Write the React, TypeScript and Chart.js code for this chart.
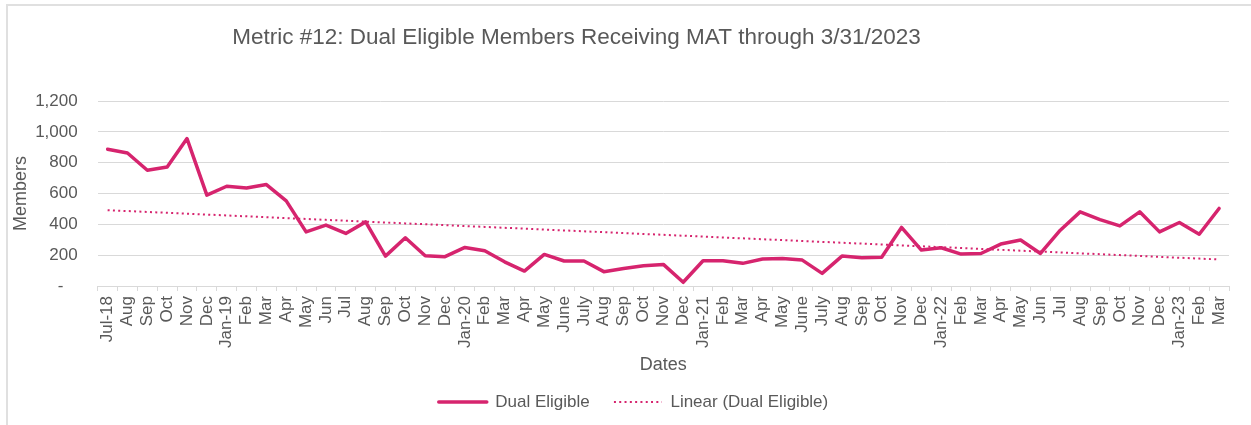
import React, { useEffect, useRef } from "react";
import { Chart, registerables } from "chart.js";

Chart.register(...registerables);

const months = [
  "Jul-18", "Aug", "Sep", "Oct", "Nov", "Dec",
  "Jan-19", "Feb", "Mar", "Apr", "May", "Jun", "Jul", "Aug", "Sep", "Oct", "Nov", "Dec",
  "Jan-20", "Feb", "Mar", "Apr", "May", "June", "July", "Aug", "Sep", "Oct", "Nov", "Dec",
  "Jan-21", "Feb", "Mar", "Apr", "May", "June", "July", "Aug", "Sep", "Oct", "Nov", "Dec",
  "Jan-22", "Feb", "Mar", "Apr", "May", "Jun", "Jul", "Aug", "Sep", "Oct", "Nov", "Dec",
  "Jan-23", "Feb", "Mar",
];

const dualEligible = [
  887, 863, 751, 772, 956, 589,
  647, 636, 658, 552, 351, 395, 341, 416, 194, 313, 196, 190,
  250, 229, 157, 97, 205, 162, 162, 93, 114, 131, 140, 24,
  164, 164, 147, 175, 178, 168, 82, 194, 183, 186, 380, 233,
  248, 207, 211, 272, 298, 211, 362, 481, 431, 390, 481, 351,
  412, 336, 503,
];

const yTicks = [0, 200, 400, 600, 800, 1000, 1200];

const chartTitle = "Metric #12: Dual Eligible Members Receiving MAT through 3/31/2023";
const seriesName = "Dual Eligible";
const trendName = "Linear (Dual Eligible)";
const xTitle = "Dates";
const yTitle = "Members";

// Least-squares linear trend of the series (as Excel's "Linear" trendline)
function linearTrend(values: number[]): number[] {
  const n = values.length;
  let sx = 0, sy = 0, sxy = 0, sxx = 0;
  values.forEach((v, i) => {
    const x = i + 1;
    sx += x; sy += v; sxy += x * v; sxx += x * x;
  });
  const b = (n * sxy - sx * sy) / (n * sxx - sx * sx);
  const a = (sy - b * sx) / n;
  return values.map((_, i) => a + b * (i + 1));
}

const MAGENTA = "#D6246E";
const TEXT = "#595959";
const GRID = "#d9d9d9";

export default function App() {
  const ref = useRef<HTMLCanvasElement | null>(null);

  useEffect(() => {
    if (!ref.current) return;
    Chart.defaults.font.family = "'Liberation Sans', Arial, sans-serif";

    const shiftPlugin = {
      id: "shiftBoxes",
      afterLayout(chart: any) {
        const t = chart.titleBlock;
        if (t) { t.left -= 42; t.right -= 42; }
        const l = chart.legend;
        if (l) { l.left += 15; l.right += 15; }
      },
    };

    const chart = new Chart(ref.current, {
      type: "line",
      data: {
        labels: months,
        datasets: [
          {
            label: seriesName,
            data: dualEligible,
            borderColor: MAGENTA,
            backgroundColor: MAGENTA,
            borderWidth: 3.5,
            pointRadius: 0,
            tension: 0,
            borderJoinStyle: "round",
            borderCapStyle: "round",
          },
          {
            label: trendName,
            data: linearTrend(dualEligible),
            borderColor: MAGENTA,
            backgroundColor: MAGENTA,
            borderWidth: 2,
            borderDash: [2, 3.3],
            pointRadius: 0,
            tension: 0,
          },
        ],
      },
      options: {
        animation: false,
        responsive: false,
        maintainAspectRatio: false,
        layout: { padding: { left: 8, right: 22, top: 0, bottom: 4.5 } },
        plugins: {
          title: {
            display: true,
            text: chartTitle,
            color: TEXT,
            font: { size: 22.5, weight: "normal" },
            padding: { top: 24, bottom: 50 },
          },
          legend: {
            display: true,
            position: "bottom",
            labels: {
              usePointStyle: true,
              pointStyle: "line",
              pointStyleWidth: 48,
              boxHeight: 17,
              padding: 10,
              color: TEXT,
              font: { size: 17 },
              generateLabels: (c: any) => {
                const base = (Chart as any).defaults.plugins.legend.labels.generateLabels(c);
                return base.map((it: any, i: number) => {
                  const ds: any = c.data.datasets[i];
                  return {
                    ...it,
                    text: i === 0 ? ds.label + "   " : ds.label,
                    strokeStyle: ds.borderColor,
                    fillStyle: ds.borderColor,
                    lineWidth: ds.borderWidth,
                    lineDash: ds.borderDash || [],
                    lineCap: i === 0 ? "round" : "butt",
                    pointStyle: "line",
                  };
                });
              },
            },
          },
          tooltip: { enabled: false },
        },
        scales: {
          x: {
            type: "category",
            offset: true,
            grid: {
              offset: true,
              drawOnChartArea: false,
              drawTicks: true,
              tickLength: 5,
              color: GRID,
            },
            border: { display: true, color: GRID },
            ticks: {
              autoSkip: false,
              maxRotation: 90,
              minRotation: 90,
              padding: 5,
              color: TEXT,
              font: { size: 17 },
            },
            title: {
              display: true,
              text: xTitle,
              color: TEXT,
              font: { size: 18 },
              padding: { top: 0, bottom: 7.7 },
            },
            afterFit(scale: any) { scale.height = 97.5; },
          },
          y: {
            min: 0,
            max: 1200,
            afterBuildTicks(scale: any) {
              scale.ticks = yTicks.map((v) => ({ value: v }));
            },
            grid: { color: GRID, drawTicks: false, lineWidth: 1 },
            border: { display: false },
            ticks: {
              padding: 20,
              color: TEXT,
              font: { size: 17 },
              callback: (v: any) => (Number(v) === 0 ? "-   " : Number(v).toLocaleString("en-US")),
            },
            title: {
              display: true,
              text: yTitle,
              color: TEXT,
              font: { size: 18 },
              padding: { top: 2.2, bottom: 0 },
            },
            afterFit(scale: any) { scale.width = 89.7; },
          },
        },
      },
      plugins: [shiftPlugin],
    } as any);

    return () => chart.destroy();
  }, []);

  return (
    <div style={{ position: "absolute", left: 0, top: 0, width: 1251, height: 425, overflow: "hidden", background: "#fff" }}>
      <div
        style={{
          position: "absolute", left: 6, top: 4, width: 1300, height: 500,
          borderLeft: "2px solid #e0e0e0", borderTop: "2px solid #e0e0e0",
        }}
      />
      <canvas ref={ref} width={1251} height={425} style={{ position: "absolute", left: 0, top: 0, width: 1251, height: 425 }} />
    </div>
  );
}
